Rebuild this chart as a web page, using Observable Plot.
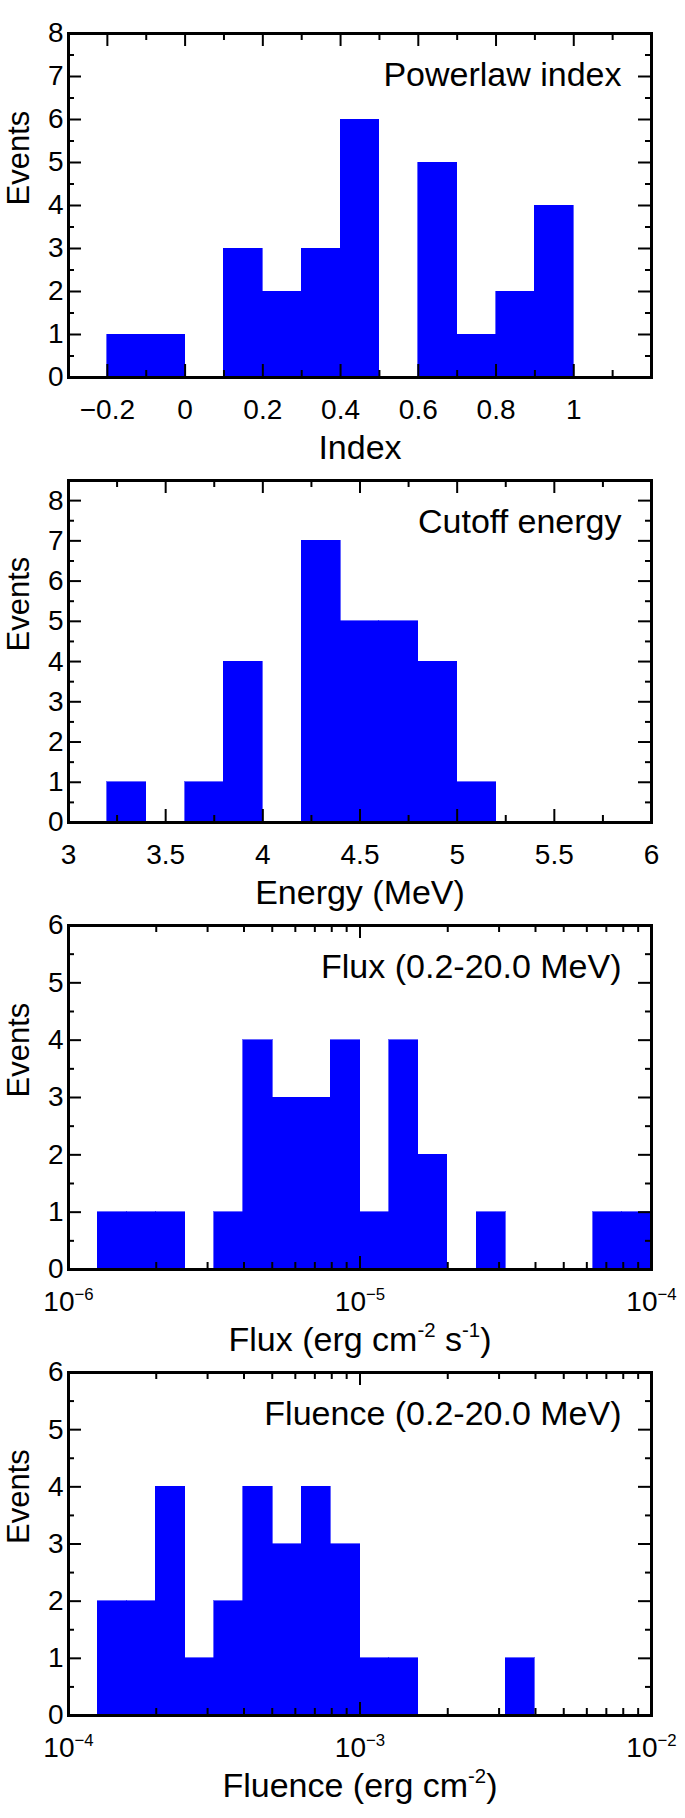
<!DOCTYPE html>
<html><head><meta charset="utf-8">
<script src="https://cdn.jsdelivr.net/npm/d3@7"></script>
<script src="https://cdn.jsdelivr.net/npm/@observablehq/plot@0.6"></script>
<style>
  html, body { margin: 0; padding: 0; background: #fff; }
  #chart svg { display: block; }
</style>
</head><body>
<div id="chart"></div>
<script>
// ---------- Panel 1: Powerlaw index ----------
const indexBinLo = [-0.2, -0.1, 0.1, 0.2, 0.3, 0.4, 0.6, 0.7, 0.8, 0.9];
const indexCounts = [1, 1, 3, 2, 3, 6, 5, 1, 2, 4];
const indexBinWidth = 0.1;
const indexTicks = [-0.2, 0, 0.2, 0.4, 0.6, 0.8, 1];
const indexMinorTicks = [-0.1, 0.1, 0.3, 0.5, 0.7, 0.9, 1.1];

// ---------- Panel 2: Cutoff energy ----------
const energyBinLo = [3.2, 3.6, 3.8, 4.2, 4.4, 4.6, 4.8, 5.0];
const energyCounts = [1, 1, 4, 7, 5, 5, 4, 1];
const energyBinWidth = 0.2;
const energyTicks = [3, 3.5, 4, 4.5, 5, 5.5, 6];
const energyMinorTicks = [3.25, 3.75, 4.25, 4.75, 5.25, 5.75];

// ---------- Panel 3: Flux (log10 of bin lower edge) ----------
const fluxLogBinLo = [-5.9, -5.8, -5.7, -5.5, -5.4, -5.3, -5.2, -5.1, -5.0, -4.9, -4.8, -4.6, -4.2, -4.1];
const fluxCounts = [1, 1, 1, 1, 4, 3, 3, 4, 1, 4, 2, 1, 1, 1];
const fluxLogBinWidth = 0.1;
const fluxTicks = [1e-6, 1e-5, 1e-4];

// ---------- Panel 4: Fluence (log10 of bin lower edge) ----------
const fluenceLogBinLo = [-3.9, -3.8, -3.7, -3.6, -3.5, -3.4, -3.3, -3.2, -3.1, -3.0, -2.9, -2.5];
const fluenceCounts = [2, 2, 4, 1, 2, 4, 3, 4, 3, 1, 1, 1];
const fluenceLogBinWidth = 0.1;
const fluenceTicks = [1e-4, 1e-3, 1e-2];

const eventTicks8 = [0, 1, 2, 3, 4, 5, 6, 7, 8];
const eventTicks6 = [0, 1, 2, 3, 4, 5, 6];

// ---------- helpers ----------
const FONT = "'Liberation Sans', Arial, Helvetica, sans-serif";
const W = 685, ML = 68, MR = 34;
const TICK_FS = 28, LABEL_FS = 34, YLABEL_FS = 31;

const linBins = (lo, n, w) => lo.map((v, i) => ({x1: v, x2: v + w, n: n[i]}));
const logBins = (lo, n, w) => lo.map((v, i) => ({x1: Math.pow(10, v), x2: Math.pow(10, v + w), n: n[i]}));
const logMinor = (majors) => majors.slice(0, -1).flatMap(d => [2,3,4,5,6,7,8,9].map(k => d * k));
const halfMinor = (majors) => majors.slice(0, -1).map(d => d + 0.5);
const fmtNum = d3.format("~g");
const fmtPow = d => "10^{" + d3.format("d")(Math.round(Math.log10(d))) + "}";

function applySuperscripts(svg) {
  d3.select(svg).selectAll("text").each(function() {
    const s = this.textContent;
    if (!s.includes("^{")) return;
    const parts = s.split(/(\^\{[^}]*\})/);
    const el = d3.select(this);
    el.text(null);
    let raised = false;
    const r = 0.6, up = 0.68;
    for (const p of parts) {
      if (!p) continue;
      const m = p.match(/^\^\{([^}]*)\}$/);
      if (m) {
        el.append("tspan").attr("font-size", r + "em").attr("dy", (-up) + "em").text(m[1]);
        raised = true;
      } else {
        const t = el.append("tspan").text(p);
        if (raised) { t.attr("dy", (r * up) + "em"); raised = false; }
      }
    }
  });
}

function histPanel(o) {
  const ih = o.height - o.marginTop - o.marginBottom;
  const iw = W - ML - MR;
  const tk = {stroke: "black", strokeWidth: 2};
  const svg = Plot.plot({
    width: W, height: o.height,
    marginLeft: ML, marginRight: MR, marginTop: o.marginTop, marginBottom: o.marginBottom,
    style: {fontFamily: FONT, fontSize: TICK_FS + "px", color: "black", background: "white", overflow: "visible"},
    x: {type: o.xType, domain: o.xDomain},
    y: {domain: o.yDomain},
    marks: [
      Plot.rect(o.bins, {x1: "x1", x2: "x2", y1: 0, y2: "n", fill: "#0000ff", stroke: "#0000ff", strokeWidth: 0.6, shapeRendering: "crispEdges"}),
      Plot.ruleX(o.xMajor, {insetTop: ih - 13, ...tk}),
      Plot.ruleX(o.xMajor, {insetBottom: ih - 13, ...tk}),
      Plot.ruleX(o.xMinor, {insetTop: ih - 7, ...tk}),
      Plot.ruleX(o.xMinor, {insetBottom: ih - 7, ...tk}),
      Plot.ruleY(o.yMajor, {insetRight: iw - 13, ...tk}),
      Plot.ruleY(o.yMajor, {insetLeft: iw - 13, ...tk}),
      Plot.ruleY(o.yMinor, {insetRight: iw - 6, ...tk}),
      Plot.ruleY(o.yMinor, {insetLeft: iw - 6, ...tk}),
      Plot.frame({stroke: "black", strokeWidth: 3}),
      Plot.axisX(o.xLabels, {tickSize: 0, tickPadding: 22, tickFormat: o.xFormat, fontSize: TICK_FS, label: null}),
      Plot.axisY(o.yMajor, {tickSize: 0, tickPadding: 5, tickFormat: d3.format("d"), fontSize: TICK_FS, label: null}),
      Plot.text([o.title], {text: d => d, frameAnchor: "top-right", textAnchor: "end", lineAnchor: "top", dx: -30, dy: 28, fontSize: LABEL_FS}),
      Plot.text([o.xLabel], {text: d => d, frameAnchor: "bottom", lineAnchor: "top", dy: 57, fontSize: LABEL_FS}),
      Plot.text(["Events"], {text: d => d, frameAnchor: "left", rotate: -90, dx: -49.5, fontSize: YLABEL_FS})
    ]
  });
  applySuperscripts(svg);
  return svg;
}

const chart = document.getElementById("chart");

chart.appendChild(histPanel({
  height: 446, marginTop: 33, marginBottom: 69,
  xType: "linear", xDomain: [-0.3, 1.2], yDomain: [0, 8],
  bins: linBins(indexBinLo, indexCounts, indexBinWidth),
  xMajor: indexTicks, xMinor: indexMinorTicks, xLabels: indexTicks, xFormat: fmtNum,
  yMajor: eventTicks8, yMinor: halfMinor(eventTicks8),
  title: "Powerlaw index", xLabel: "Index"
}));

chart.appendChild(histPanel({
  height: 446, marginTop: 34, marginBottom: 70,
  xType: "linear", xDomain: [3, 6], yDomain: [0, 8.5],
  bins: linBins(energyBinLo, energyCounts, energyBinWidth),
  xMajor: energyTicks, xMinor: energyMinorTicks, xLabels: energyTicks, xFormat: fmtNum,
  yMajor: eventTicks8, yMinor: halfMinor(eventTicks8),
  title: "Cutoff energy", xLabel: "Energy (MeV)"
}));

chart.appendChild(histPanel({
  height: 446, marginTop: 33, marginBottom: 69,
  xType: "log", xDomain: [1e-6, 1e-4], yDomain: [0, 6],
  bins: logBins(fluxLogBinLo, fluxCounts, fluxLogBinWidth),
  xMajor: fluxTicks, xMinor: logMinor(fluxTicks), xLabels: fluxTicks, xFormat: fmtPow,
  yMajor: eventTicks6, yMinor: halfMinor(eventTicks6),
  title: "Flux (0.2-20.0 MeV)", xLabel: "Flux (erg cm^{-2} s^{-1})"
}));

chart.appendChild(histPanel({
  height: 480, marginTop: 34, marginBottom: 103,
  xType: "log", xDomain: [1e-4, 1e-2], yDomain: [0, 6],
  bins: logBins(fluenceLogBinLo, fluenceCounts, fluenceLogBinWidth),
  xMajor: fluenceTicks, xMinor: logMinor(fluenceTicks), xLabels: fluenceTicks, xFormat: fmtPow,
  yMajor: eventTicks6, yMinor: halfMinor(eventTicks6),
  title: "Fluence (0.2-20.0 MeV)", xLabel: "Fluence (erg cm^{-2})"
}));
</script>
</body></html>
